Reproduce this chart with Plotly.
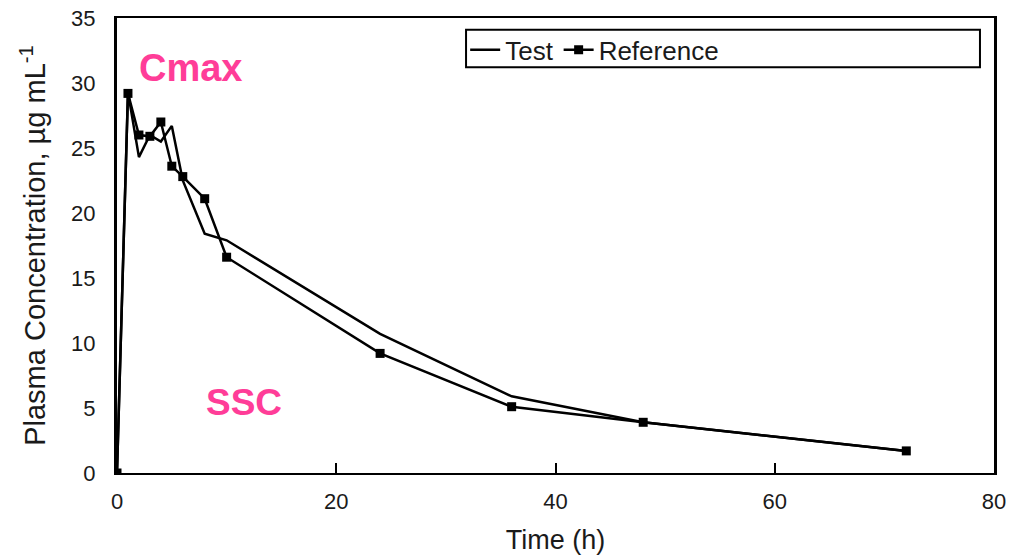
import plotly.graph_objects as go

time_h = [0, 1, 2, 3, 4, 5, 6, 8, 10, 24, 36, 48, 72]
test_conc = [0, 29.3, 24.3, 26.0, 25.5, 26.7, 22.5, 18.4, 17.9, 10.7, 5.9, 3.9, 1.7]
reference_conc = [0, 29.2, 26.0, 25.9, 27.0, 23.6, 22.8, 21.1, 16.6, 9.2, 5.1, 3.9, 1.7]

x_ticks = [0, 20, 40, 60, 80]
y_ticks = [0, 5, 10, 15, 20, 25, 30, 35]

FONT = "Liberation Sans, Arial, sans-serif"
PINK = "#FF3D98"
TXT = "#1a1a1a"

fig = go.Figure()
fig.add_trace(go.Scatter(
    x=time_h, y=test_conc, name="Test", mode="lines",
    line=dict(color="black", width=2.5),
))
fig.add_trace(go.Scatter(
    x=time_h, y=reference_conc, name="Reference", mode="lines+markers",
    line=dict(color="black", width=2.5),
    marker=dict(symbol="square", size=9, color="black"),
))

fig.update_layout(
    width=1012, height=555,
    margin=dict(l=117, r=18, t=18, b=82, autoexpand=False),
    paper_bgcolor="white", plot_bgcolor="white",
    font=dict(family=FONT, color=TXT),
    showlegend=True,
    legend=dict(
        orientation="h", x=0.397, y=0.93, xanchor="left", yanchor="middle",
        bgcolor="rgba(0,0,0,0)", font=dict(size=26, color=TXT),
        itemwidth=30, tracegroupgap=0,
    ),
    xaxis=dict(
        range=[0, 80], tickvals=x_ticks, ticktext=[str(v) for v in x_ticks],
        showgrid=False, zeroline=False, automargin=False,
        showline=True, linecolor="black", linewidth=2, mirror=True,
        ticks="inside", ticklen=10, tickwidth=1.5, tickcolor="black",
        tickfont=dict(size=22, color=TXT),
        ticklabelstandoff=8, ticklabeloverflow="allow",
        title=dict(text="Time (h)", font=dict(size=27, color=TXT), standoff=24),
    ),
    yaxis=dict(
        range=[0, 35], tickvals=y_ticks, ticktext=[str(v) for v in y_ticks],
        showgrid=False, zeroline=False, automargin=False,
        showline=True, linecolor="black", linewidth=3, mirror=True,
        ticks="", tickfont=dict(size=22, color=TXT),
        ticklabelstandoff=14, ticklabeloverflow="allow",
        title=dict(text="Plasma Concentration, µg mL<sup>-1</sup>",
                   font=dict(size=29, color=TXT), standoff=17),
    ),
    shapes=[dict(
        type="rect", xref="paper", yref="paper",
        x0=0.398, x1=0.984, y0=0.892, y1=0.974,
        line=dict(color="black", width=2), fillcolor="rgba(0,0,0,0)",
    )],
    annotations=[
        dict(x=6.75, y=31.15, xref="x", yref="y", text="<b>Cmax</b>", showarrow=False,
             font=dict(size=38, color=PINK, family=FONT)),
        dict(x=11.6, y=5.4, xref="x", yref="y", text="<b>SSC</b>", showarrow=False,
             font=dict(size=37, color=PINK, family=FONT)),
    ],
)

fig.write_html("out.html")
